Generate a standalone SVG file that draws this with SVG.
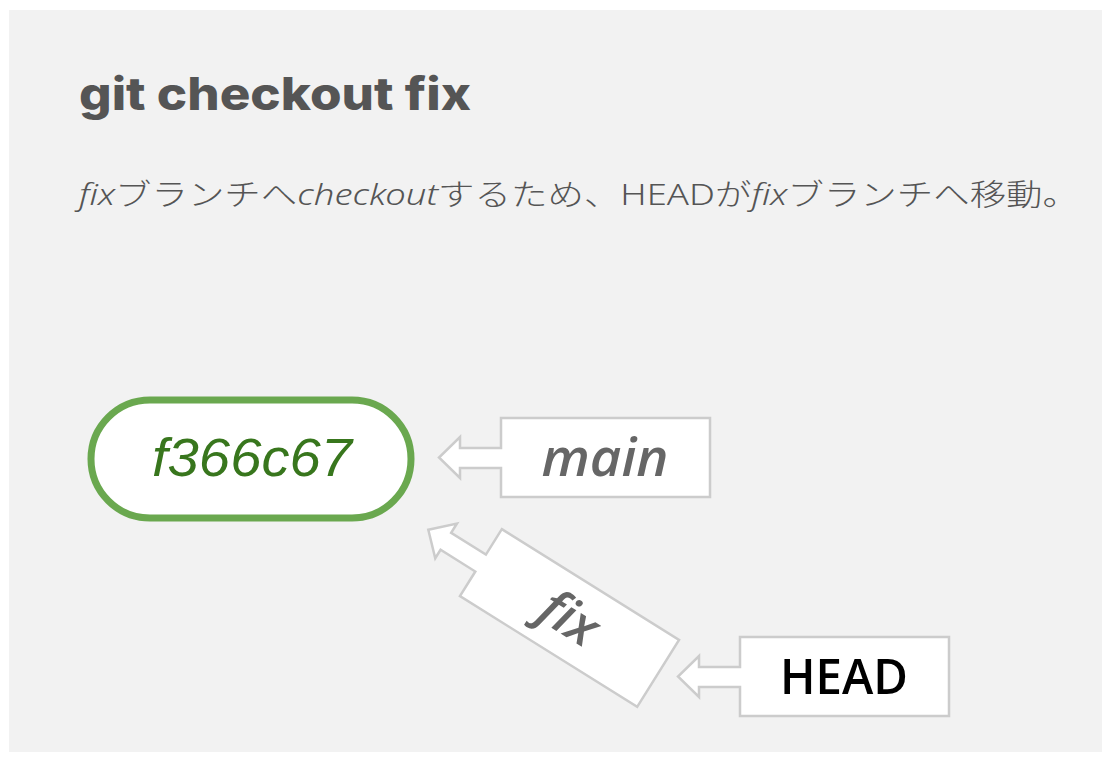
<svg xmlns="http://www.w3.org/2000/svg" width="1112" height="764" viewBox="0 0 1112 764">
<style>
.tag{fill:#fff;stroke:#cccccc;stroke-width:2.5;stroke-linejoin:miter}
.lbl{font-family:"Open Sans","Noto Sans",sans-serif;font-size:52px;font-weight:600;font-style:italic;fill:#666;text-anchor:middle}
</style>
<defs>
<path id="tagShape" d="M0 0 H209 V79 H0 V50 H-41 V60 L-62 39.5 L-41 19 V30 H0 Z"/>
</defs>
<rect x="0" y="0" width="1112" height="764" fill="#ffffff"/>
<rect x="9" y="10" width="1093" height="742" fill="#f2f2f2"/>
<g id="title">
<text x="79" y="110" font-family="Inter,'Open Sans',sans-serif" font-weight="800" font-size="45" fill="#555" textLength="392" lengthAdjust="spacingAndGlyphs">git checkout fix</text>
</g>
<g id="subtitle">
<text x="79" y="205" font-family="'Noto Sans','Noto Sans CJK JP',sans-serif" font-size="30" font-weight="300" fill="#555" textLength="1000" lengthAdjust="spacingAndGlyphs"><tspan font-style="italic">fix</tspan><tspan font-family="'Noto Sans CJK JP',sans-serif">ブランチへ</tspan><tspan font-style="italic">checkout</tspan><tspan font-family="'Noto Sans CJK JP',sans-serif">するため、</tspan>HEAD<tspan font-family="'Noto Sans CJK JP',sans-serif">が</tspan><tspan font-style="italic">fix</tspan><tspan font-family="'Noto Sans CJK JP',sans-serif">ブランチへ移動。</tspan></text>
</g>
<g id="connectors"></g>
<g id="commit-f366c67">
<rect x="91" y="400" width="320" height="118" rx="59" ry="59" fill="#ffffff" stroke="#6aa84f" stroke-width="7"/>
<text x="252" y="476" font-family="'Liberation Sans',Arial,sans-serif" font-style="italic" font-size="54" fill="#38761d" text-anchor="middle" textLength="200" lengthAdjust="spacingAndGlyphs">f366c67</text>
</g>
<g id="branch-main">
<use href="#tagShape" class="tag" transform="translate(501,418)"/>
<text class="lbl" x="605" y="476" textLength="127" lengthAdjust="spacingAndGlyphs">main</text>
</g>
<g id="branch-fix">
<use href="#tagShape" class="tag" transform="translate(569.5,618) rotate(32) translate(-104.5,-39.5)"/>
<text class="lbl" transform="translate(569.5,618) rotate(32)" x="0" y="18">fix</text>
</g>
<g id="head">
<use href="#tagShape" class="tag" transform="translate(740,637)"/>
<text x="844" y="694" font-family="'Open Sans','Noto Sans',sans-serif" font-size="49" font-weight="600" fill="#000" text-anchor="middle" textLength="128" lengthAdjust="spacingAndGlyphs">HEAD</text>
</g>
</svg>
